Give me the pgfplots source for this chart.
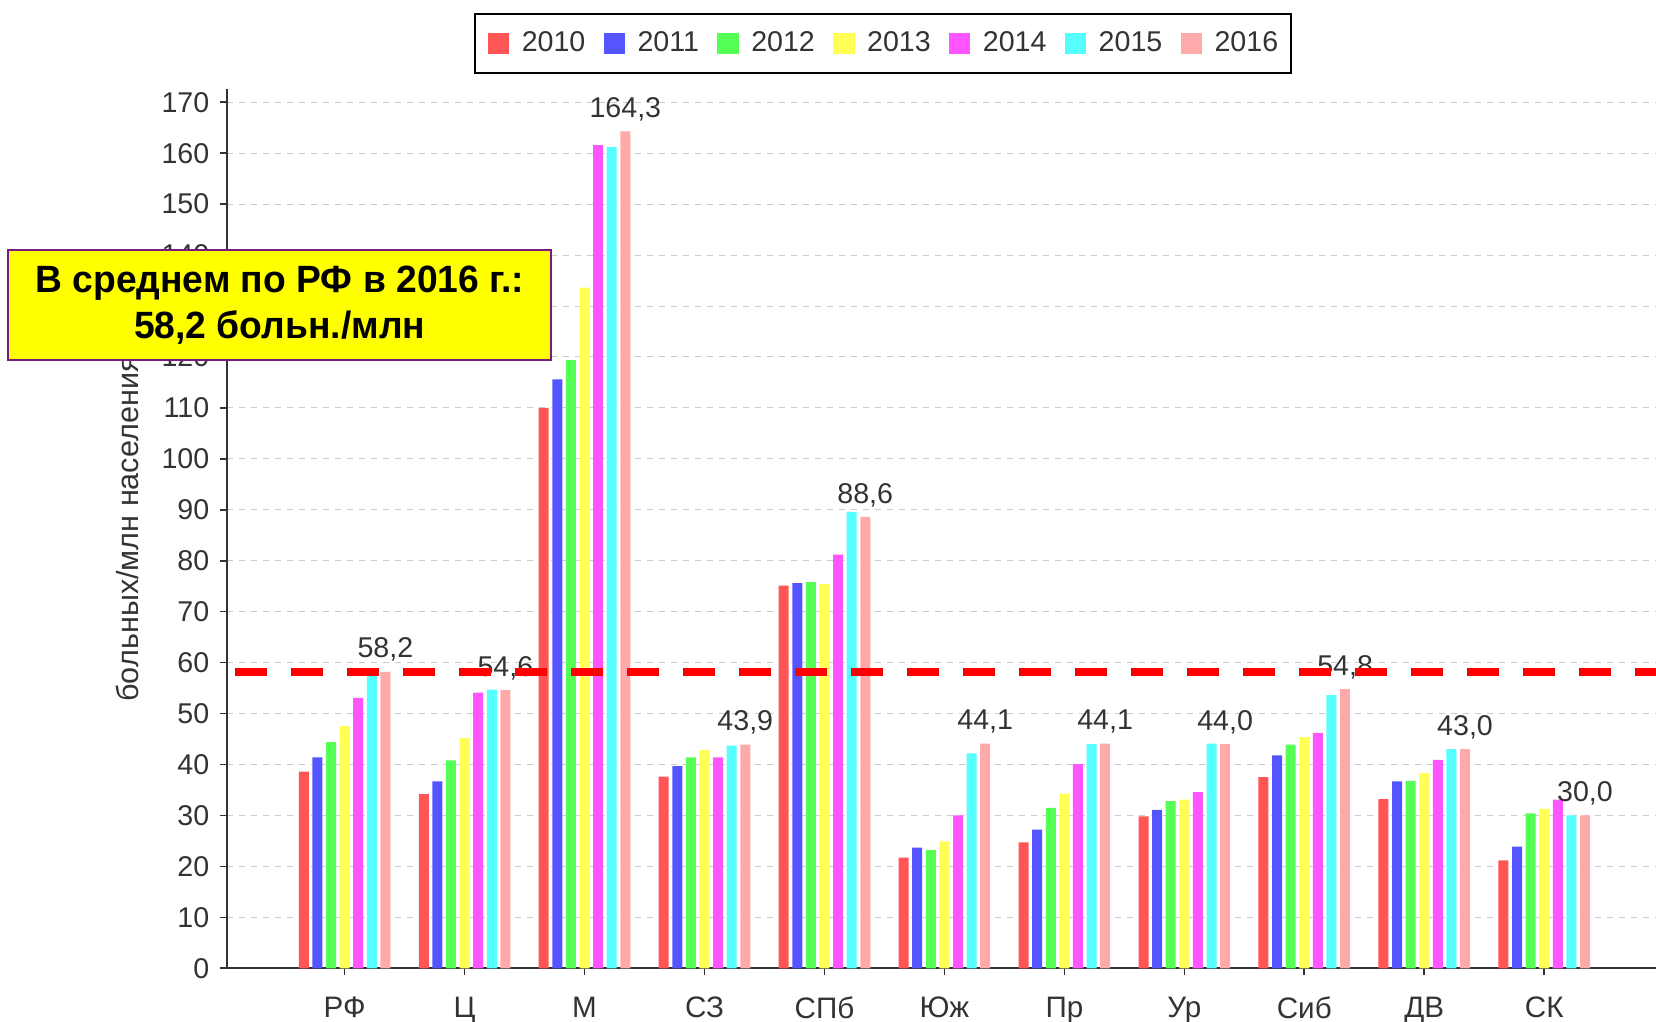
\documentclass[border=0pt]{standalone}
\usepackage{fontspec}
\setmainfont{Liberation Sans}
\newfontfamily\boxfont{Liberation Sans}[FakeStretch=0.98]
\usepackage{pgfplots}
\pgfplotsset{compat=1.18}
\definecolor{c0}{HTML}{FF5555}
\definecolor{c1}{HTML}{5555FF}
\definecolor{c2}{HTML}{55FF55}
\definecolor{c3}{HTML}{FFFF55}
\definecolor{c4}{HTML}{FF55FF}
\definecolor{c5}{HTML}{55FFFF}
\definecolor{c6}{HTML}{FFAAAA}
\definecolor{boxborder}{HTML}{7A1A7A}
\definecolor{boxfill}{HTML}{FFFF00}
\definecolor{txt}{HTML}{333333}
\pgfplotsset{
  mybar/.style 2 args={ybar, bar width=5pt, bar shift=#2, draw=none, fill=#1,
    legend image code/.code={\fill[#1] (0pt,-5.3pt) rectangle (10.6pt,5.3pt);}}
}
\begin{document}
\begin{tikzpicture}
\path[use as bounding box] (0,0) rectangle (828pt,511pt);
\begin{axis}[
  at={(113.65pt,26.85pt)}, anchor=south west,
  scale only axis, width=714.35pt, height=439.4pt,
  xmin=0.022, xmax=11.932, ymin=0, ymax=172.5,
  clip=false, clip mode=individual,
  axis x line*=bottom, axis y line*=left,
  xtick={1,...,11},
  xticklabels={РФ,Ц,М,СЗ,СПб,Юж,Пр,Ур,Сиб,ДВ,СК},
  ytick={0,10,...,170},
  tick align=outside, major tick length=3.5pt,
  tick style={txt, line width=0.8pt},
  ymajorgrids,
  grid style={black!20, dash pattern=on 3pt off 3pt, line width=0.5pt},
  axis line style={txt, line width=1pt},
  ticklabel style={font=\fontsize{14.3}{16}\selectfont, text=txt},
  yticklabel style={xshift=-2pt},
  xticklabel style={yshift=-7.4pt, font=\fontsize{14.8}{16}\selectfont},
  /pgf/number format/assume math mode=true,
  ylabel={больных/млн населения},
  ylabel style={at={(axis description cs:-0.070,0.5)}, anchor=center, font=\fontsize{15.3}{16}\selectfont, text=txt},
  legend columns=-1,
  legend style={at={(axis description cs:0.459,1.0874)}, anchor=north,
    draw=black, line width=1pt, inner xsep=6.4pt, inner ysep=9pt,
    font=\fontsize{14.3}{16}\selectfont, text=txt,
    nodes={inner sep=0pt},
    /tikz/every odd column/.append style={column sep=6.3pt},
    /tikz/every even column/.append style={column sep=9.2pt}},
]
\addplot[mybar={c0}{-20.4pt}] coordinates {(1,38.6) (2,34.2) (3,110.0) (4,37.6) (5,75.1) (6,21.7) (7,24.7) (8,29.8) (9,37.5) (10,33.2) (11,21.2)};
\addlegendentry{2010}
\addplot[mybar={c1}{-13.6pt}] coordinates {(1,41.4) (2,36.7) (3,115.6) (4,39.7) (5,75.6) (6,23.7) (7,27.2) (8,31.1) (9,41.8) (10,36.7) (11,23.9)};
\addlegendentry{2011}
\addplot[mybar={c2}{-6.8pt}] coordinates {(1,44.4) (2,40.8) (3,119.4) (4,41.4) (5,75.8) (6,23.2) (7,31.5) (8,32.8) (9,43.9) (10,36.8) (11,30.4)};
\addlegendentry{2012}
\addplot[mybar={c3}{0pt}] coordinates {(1,47.6) (2,45.2) (3,133.6) (4,42.8) (5,75.4) (6,24.9) (7,34.3) (8,33.1) (9,45.4) (10,38.3) (11,31.3)};
\addlegendentry{2013}
\addplot[mybar={c4}{6.8pt}] coordinates {(1,53.1) (2,54.1) (3,161.6) (4,41.4) (5,81.2) (6,30.0) (7,40.1) (8,34.6) (9,46.2) (10,40.9) (11,33.1)};
\addlegendentry{2014}
\addplot[mybar={c5}{13.6pt}] coordinates {(1,57.4) (2,54.7) (3,161.2) (4,43.7) (5,89.6) (6,42.2) (7,44.0) (8,44.1) (9,53.6) (10,43.0) (11,30.0)};
\addlegendentry{2015}
\addplot[mybar={c6}{20.4pt},
  nodes near coords={\pgfmathprintnumber[assume math mode=true,fixed,fixed zerofill,precision=1,use comma]{\pgfplotspointmeta}},
  nodes near coords style={anchor=base, xshift=20.4pt, yshift=6.9pt, font=\fontsize{14.3}{16}\selectfont, text=txt, inner sep=0pt}]
  coordinates {(1,58.2) (2,54.6) (3,164.3) (4,43.9) (5,88.6) (6,44.1) (7,44.1) (8,44.0) (9,54.8) (10,43.0) (11,30.0)};
\addlegendentry{2016}
\addplot[sharp plot, red, line width=3.8pt, dash pattern=on 16pt off 12pt, dash phase=24.3pt, forget plot]
  coordinates {(0.022,58.2) (11.932,58.2)};
\end{axis}
\node[draw=boxborder, line width=1pt, fill=boxfill, minimum width=271.3pt, minimum height=55pt,
  align=center, inner sep=0pt, font=\boxfont\bfseries\fontsize{19}{22.7}\selectfont]
  at (139.85pt,358.5pt) {В среднем по РФ в 2016 г.:\\58,2 больн./млн};
\end{tikzpicture}
\end{document}
